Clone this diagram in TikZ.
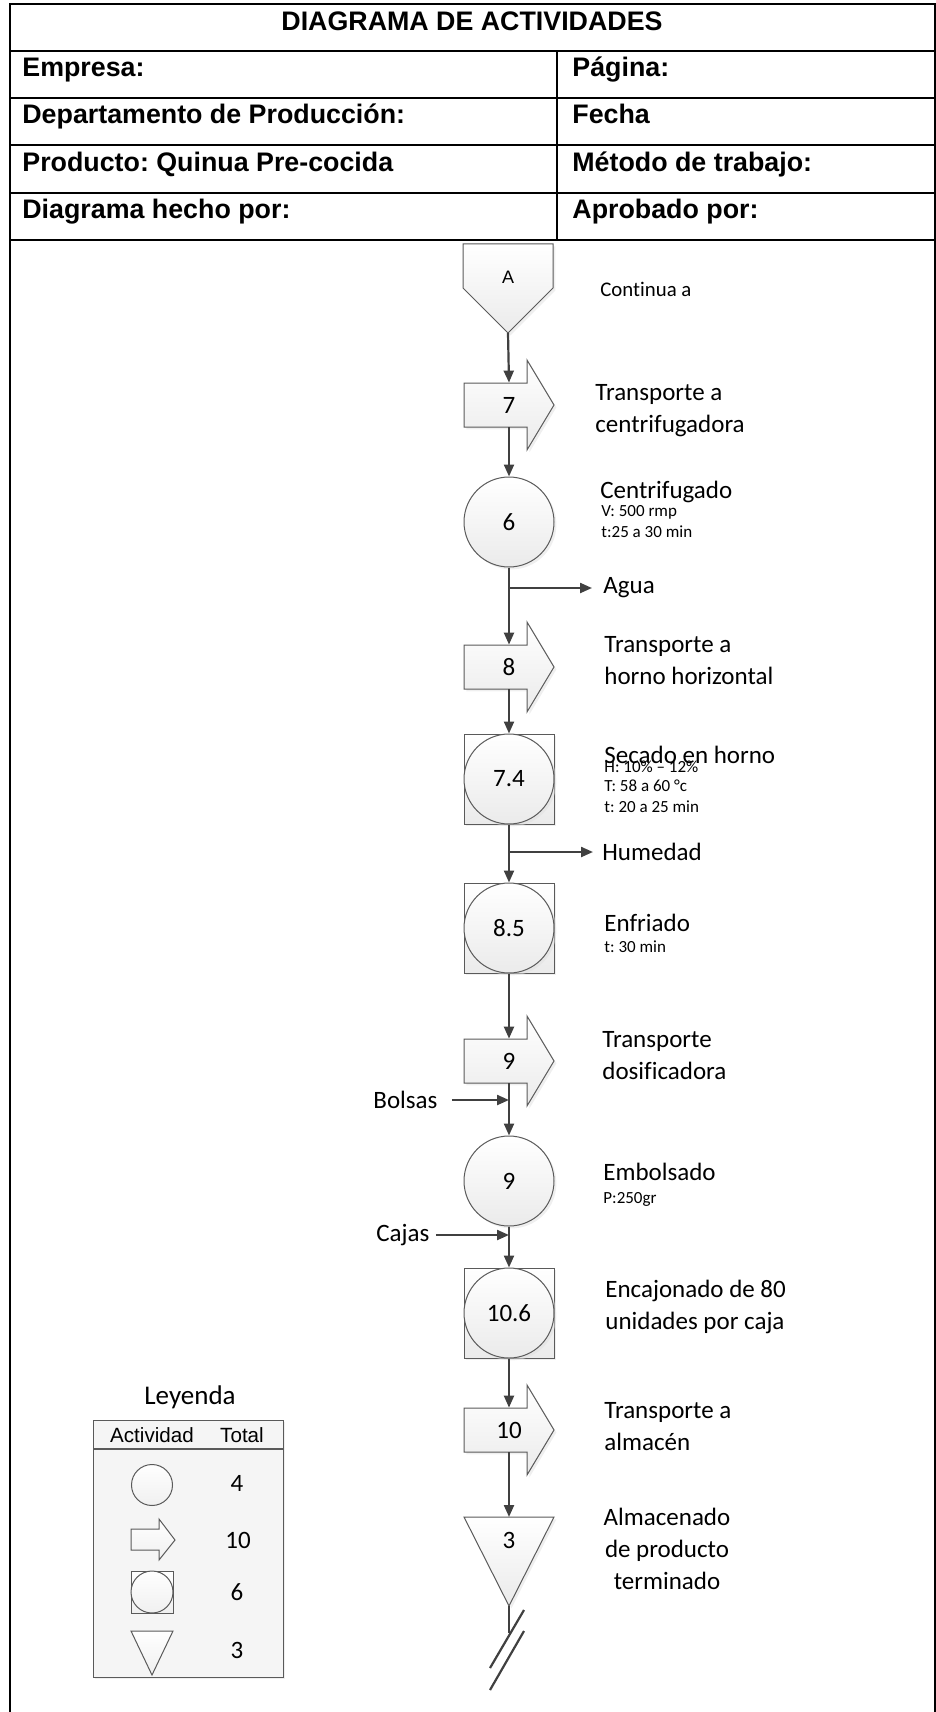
\documentclass[tikz,border=0pt]{standalone}
\usepackage{fontspec}
\setmainfont{Carlito}[Ligatures=NoCommon]
\newfontfamily\arialfont{Liberation Sans}
\usetikzlibrary{arrows.meta,shadows}
\definecolor{linegray}{HTML}{404040}
\definecolor{edgegray}{HTML}{5A5A5A}
\frenchspacing

\begin{document}
\begin{tikzpicture}[x=0.5pt,y=-0.5pt,
  flow/.style={draw=linegray,line width=1.1pt,-{Triangle[length=6pt,width=5pt]}},
  flowshape/.style={draw=edgegray,line width=0.5pt,top color=white,bottom color=black!8,
    drop shadow={shadow xshift=1.2pt,shadow yshift=-1.2pt,fill=black!12}},
  legshape/.style={draw=edgegray,line width=0.5pt,top color=white,bottom color=black!6},
  num/.style={font=\fontsize{12.5}{15}\selectfont,inner sep=0pt},
  note/.style={anchor=west,inner sep=0pt,align=left,font=\fontsize{12.5}{16}\selectfont},
  small/.style={anchor=west,inner sep=0pt,font=\fontsize{8.5}{10}\selectfont},
  hdr/.style={anchor=west,inner sep=0pt,text height=9.5pt,text depth=2.7pt,
    font=\arialfont\bfseries\fontsize{13.4}{15}\selectfont},
  opcirc/.style={flowshape,circle,minimum size=45pt,num},
  opsq/.style={flowshape,rectangle,minimum size=45pt,inner sep=0pt},
  frame/.style={line width=1.3pt}]
\useasboundingbox (0,0) rectangle (936,1712);

% encabezado
\draw[frame] (10,1712) -- (10,4) -- (935,4) -- (935,1712);
\foreach \ry in {51,98,145,193,240}
  \draw[frame] (10,\ry) -- (935,\ry);
\draw[frame] (557,51) -- (557,240);
\node[hdr,anchor=center] (title) at (472,24) {DIAGRAMA DE ACTIVIDADES};
\node[hdr] (empresa) at (22,70) {Empresa:};
\node[hdr] (depto) at (22,117) {Departamento de Producción:};
\node[hdr] (prod) at (22,165) {Producto: Quinua Pre-cocida};
\node[hdr] (hecho) at (22,212) {Diagrama hecho por:};
\node[hdr] (pagina) at (572,70) {Página:};
\node[hdr] (fecha) at (572,117) {Fecha};
\node[hdr] (metodo) at (572,165) {Método de trabajo:};
\node[hdr] (aprob) at (572,212) {Aprobado por:};

% conector A
\draw[flowshape] (463,244) -- (553,244) -- (553,288) -- (508,333) -- (463,288) -- cycle;
\node[font=\arialfont\fontsize{9}{10}\selectfont] (conA) at (508,277) {A};
\coordinate (conAtip) at (508,333);
\node[note,font=\fontsize{10.4}{12}\selectfont] (lblA) at (600,289) {Continua a};

% transportes
\foreach \n/\y in {7/405,8/667,9/1061,10/1430}{
  \draw[flowshape] (464,\y-22) -- (527,\y-22) -- (527,\y-45) -- (554,\y) -- (527,\y+45)
    -- (527,\y+22) -- (464,\y+22) -- cycle;
  \node[num,minimum height=22pt] (tr\n) at (509,\y) {\n};
}

% operaciones y combinadas
\node[opcirc] (op6) at (509,522) {6};
\node[opsq] (sq74) at (509,779) {};
\node[opcirc] (op74) at (sq74) {7.4};
\node[opsq] (sq85) at (509,928) {};
\node[opcirc] (op85) at (sq85) {8.5};
\node[opcirc] (op9) at (509,1181) {9};
\node[opsq] (sq106) at (509,1313) {};
\node[opcirc] (op106) at (sq106) {10.6};

% almacenado
\draw[flowshape] (464,1517) -- (554,1517) -- (509,1606) -- cycle;
\node[num] (alm) at (509,1540) {3};
\coordinate (almtop) at (509,1517);
\coordinate (almtip) at (509,1606);
\coordinate (corte) at (509,1633);

% textos
\node[note] (lbl7) at (595,411) {Transporte a\\centrifugadora};
\node[note] (lbl6) at (600,492) {Centrifugado};
\node[small] (v6) at (601,512) {V: 500 rmp};
\node[small] (t6) at (601,532) {t:25 a 30 min};
\node[note] (agua) at (603,588) {Agua};
\node[note] (lbl8) at (604,661) {Transporte a\\horno horizontal};
\node[note] (lbl74) at (604,755) {Secado en horno};
\node[small] (h74) at (604,767) {H: 10\% – 12\%};
\node[small] (tt74) at (604,786) {T: 58 a 60 °c};
\node[small] (t74) at (604,807) {t: 20 a 25 min};
\node[note] (humedad) at (602,852) {Humedad};
\node[note] (lbl85) at (604,923) {Enfriado};
\node[small] (t85) at (604,947) {t: 30 min};
\node[note] (lbl9) at (602,1056) {Transporte\\dosificadora};
\node[note] (bolsas) at (373,1100) {Bolsas};
\node[note] (lblop9) at (603,1172) {Embolsado};
\node[small] (p9) at (603,1199) {P:250gr};
\node[note] (cajas) at (376,1235) {Cajas};
\node[note] (lbl106) at (605,1307) {Encajonado de 80\\unidades por caja};
\node[note] (lbl10) at (604,1427) {Transporte a\\almacén};
\node[note,anchor=center,align=center] (lblalm) at (667,1549) {Almacenado\\de producto\\terminado};

% flujo
\draw[flow] (conAtip) -- (tr7.north);
\draw[flow] (tr7.south) -- (op6.north);
\draw[flow] (op6.south) -- (tr8.north);
\draw[flow] (op6.south |- agua) -- ([xshift=-5.5pt]agua.west);
\draw[flow] (tr8.south) -- (sq74.north);
\draw[flow] (sq74.south) -- (sq85.north);
\draw[flow] (sq74.south |- humedad) -- ([xshift=-4.5pt]humedad.west);
\draw[flow] (sq85.south) -- (tr9.north);
\draw[flow] (tr9.south) -- (op9.north);
\draw[flow,shorten <=7pt] (bolsas.east) -- (bolsas.east -| tr9.south);
\draw[flow] (op9.south) -- (sq106.north);
\draw[flow,shorten <=3pt] (cajas.east) -- (cajas.east -| op9.south);
\draw[flow] (sq106.south) -- (tr10.north);
\draw[flow] (tr10.south) -- (almtop);
\draw[draw=linegray,line width=1.1pt] (almtip) -- (corte);
\draw[draw=linegray,line width=1.1pt] (490,1668) -- (524,1610);
\draw[draw=linegray,line width=1.1pt] (490,1690) -- (524,1631);

% leyenda
\node[font=\fontsize{13.5}{16}\selectfont] (leyenda) at (190,1397) {Leyenda};
\draw[draw=edgegray,fill=black!4,line width=0.5pt,
  drop shadow={shadow xshift=1pt,shadow yshift=-1pt,fill=black!12}] (93,1420) rectangle (283,1677);
\draw[edgegray,line width=0.6pt] (93,1449) -- (283,1449);
\node[font=\arialfont\fontsize{10.3}{12}\selectfont] (act) at (152,1435) {Actividad};
\node[font=\arialfont\fontsize{10.3}{12}\selectfont] (tot) at (242,1435) {Total};
\node[legshape,circle,minimum size=20.5pt,inner sep=0pt] (legop) at (152,1485) {};
\draw[legshape] (131,1529) -- (159,1529) -- (159,1519) -- (175,1540) -- (159,1560)
  -- (159,1550) -- (131,1550) -- cycle;
\node[legshape,rectangle,minimum size=21pt,inner sep=0pt] (legsq) at (152,1592) {};
\node[legshape,circle,minimum size=21pt,inner sep=0pt] (legcomb) at (legsq) {};
\draw[legshape] (131,1631) -- (173,1631) -- (152,1675) -- cycle;
\node[num] (nop) at (237,1483) {4};
\node[num] (ntr) at (238,1540) {10};
\node[num] (ncomb) at (237,1592) {6};
\node[num] (nalm) at (237,1650) {3};
\end{tikzpicture}
\end{document}
